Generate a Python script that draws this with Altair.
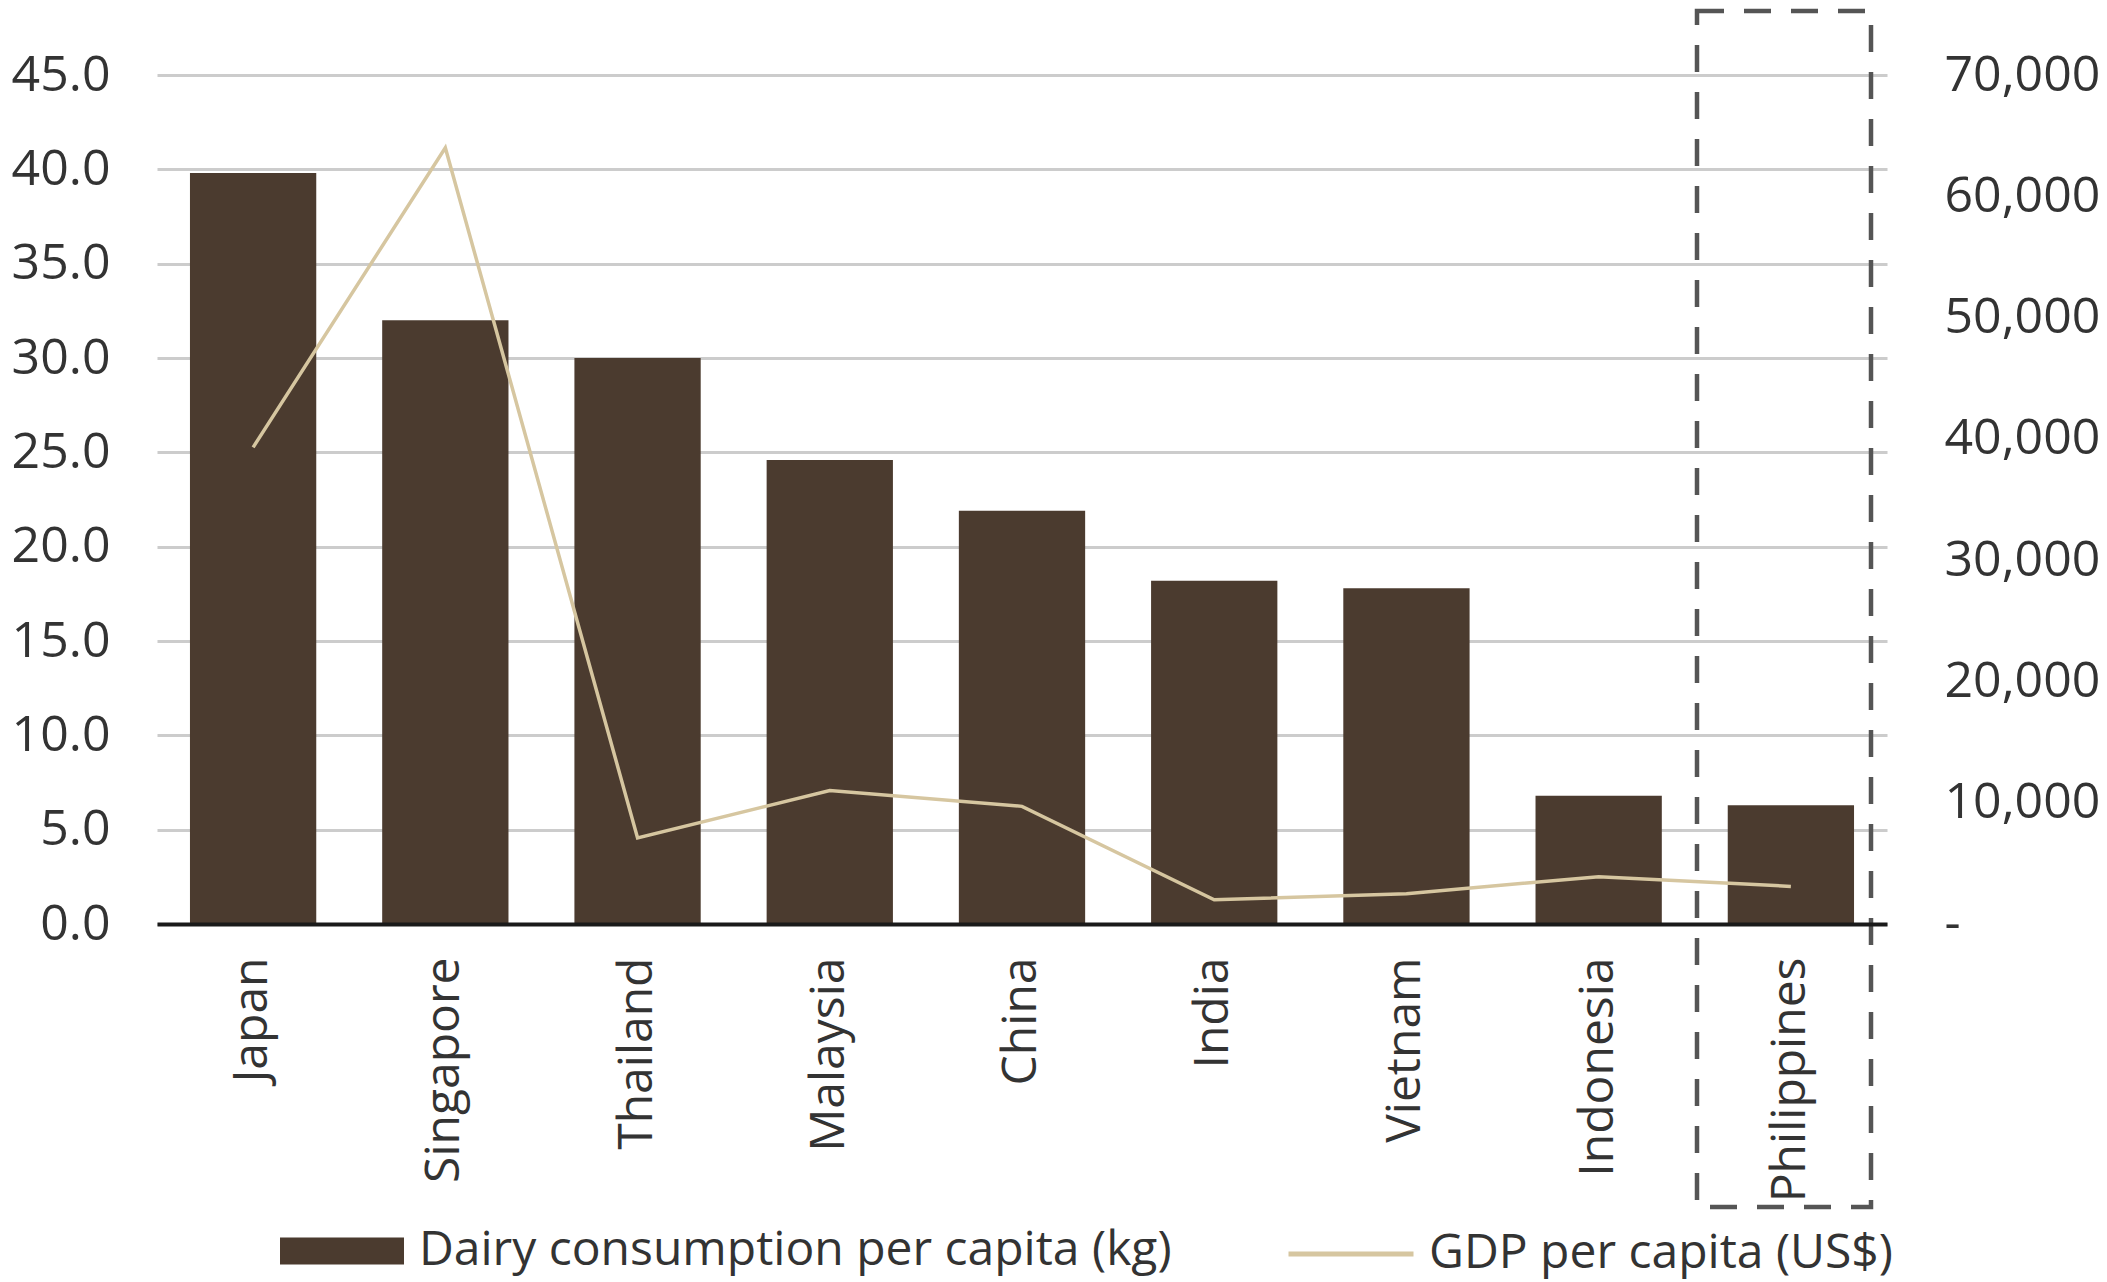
import altair as alt
import pandas as pd

# Dairy consumption vs GDP per capita across Asian markets
countries = ["Japan", "Singapore", "Thailand", "Malaysia", "China",
             "India", "Vietnam", "Indonesia", "Philippines"]
dairy_kg = [39.8, 32.0, 30.0, 24.6, 21.9, 18.2, 17.8, 6.8, 6.3]
gdp_usd = [39300, 64000, 7100, 11000, 9700, 2000, 2500, 3900, 3100]

dairy_label = "Dairy consumption per capita (kg)"
gdp_label = "GDP per capita (US$)"

BAR = "#4b3b2f"
LINE = "#d6c6a0"
FONT = "Open Sans"
TEXT = "#333333"

df = pd.DataFrame({
    "country": countries,
    "dairy": dairy_kg,
    "gdp": gdp_usd,
    "bar_series": [dairy_label] * len(countries),
    "line_series": [gdp_label] * len(countries),
})

x_enc = alt.X(
    "country:N",
    sort=countries,
    scale=alt.Scale(paddingInner=0.343, paddingOuter=0.1715),
    axis=alt.Axis(
        title=None, labelAngle=-90, labelFont=FONT, labelFontSize=48,
        labelColor=TEXT, ticks=False, tickSize=0, labelPadding=33,
        labelLimit=1000, domain=True, domainColor="#1a1a1a", domainWidth=4,
        grid=False, zindex=1,
    ),
)

bars = alt.Chart(df).mark_bar().encode(
    x=x_enc,
    y=alt.Y(
        "dairy:Q",
        scale=alt.Scale(domain=[0, 45], nice=False),
        axis=alt.Axis(
            title=None, values=list(range(0, 50, 5)), format=".1f",
            labelFont=FONT, labelFontSize=50, labelColor=TEXT,
            labelPadding=47, ticks=False, domain=False,
            grid=True, gridColor="#cccccc", gridWidth=3,
        ),
    ),
    fill=alt.Fill(
        "bar_series:N",
        scale=alt.Scale(domain=[dairy_label], range=[BAR]),
        legend=alt.Legend(
            title=None, orient="none", legendX=123, legendY=1114, padding=0,
            symbolType="M-1,-0.218L1,-0.218L1,0.218L-1,0.218Z",
            symbolSize=15376, symbolStrokeWidth=0, symbolOpacity=1,
            labelFont=FONT, labelFontSize=48, labelColor=TEXT,
            labelOffset=15, labelLimit=2000,
        ),
    ),
)

line = alt.Chart(df).mark_line(strokeWidth=3.5).encode(
    x=x_enc,
    y=alt.Y(
        "gdp:Q",
        scale=alt.Scale(domain=[0, 70000], nice=False),
        axis=alt.Axis(
            title=None, orient="right", values=list(range(0, 80000, 10000)),
            labelExpr="datum.value == 0 ? '-' : format(datum.value, ',')",
            labelFont=FONT, labelFontSize=50, labelColor=TEXT,
            labelPadding=57, ticks=False, domain=False, grid=False,
        ),
    ),
    stroke=alt.Stroke(
        "line_series:N",
        scale=alt.Scale(domain=[gdp_label], range=[LINE]),
        legend=alt.Legend(
            title=None, orient="none", legendX=1129, legendY=1114, padding=0,
            symbolType="stroke", symbolSize=15625, symbolStrokeWidth=5,
            labelFont=FONT, labelFontSize=48, labelColor=TEXT,
            labelOffset=13, labelLimit=2000,
        ),
    ),
)

# dashed highlight box around the Philippines column
box = alt.Chart(pd.DataFrame({"k": [0]})).mark_rect(
    filled=False, stroke="#555555", strokeWidth=4.5, strokeDash=[27, 20]
).encode(
    x=alt.value(1540), x2=alt.value(1714),
    y=alt.value(-64), y2=alt.value(1132),
)

chart = (
    alt.layer(bars, line, box)
    .resolve_scale(y="independent")
    .properties(
        width=1730, height=849,
        background="white",
        autosize=alt.AutoSizeParams(type="none"),
        padding={"left": 157, "top": 75, "right": 220, "bottom": 358},
    )
    .configure_view(stroke="transparent", strokeWidth=0)
)

chart.save("out.html", embed_options={"renderer": "svg", "actions": False})
